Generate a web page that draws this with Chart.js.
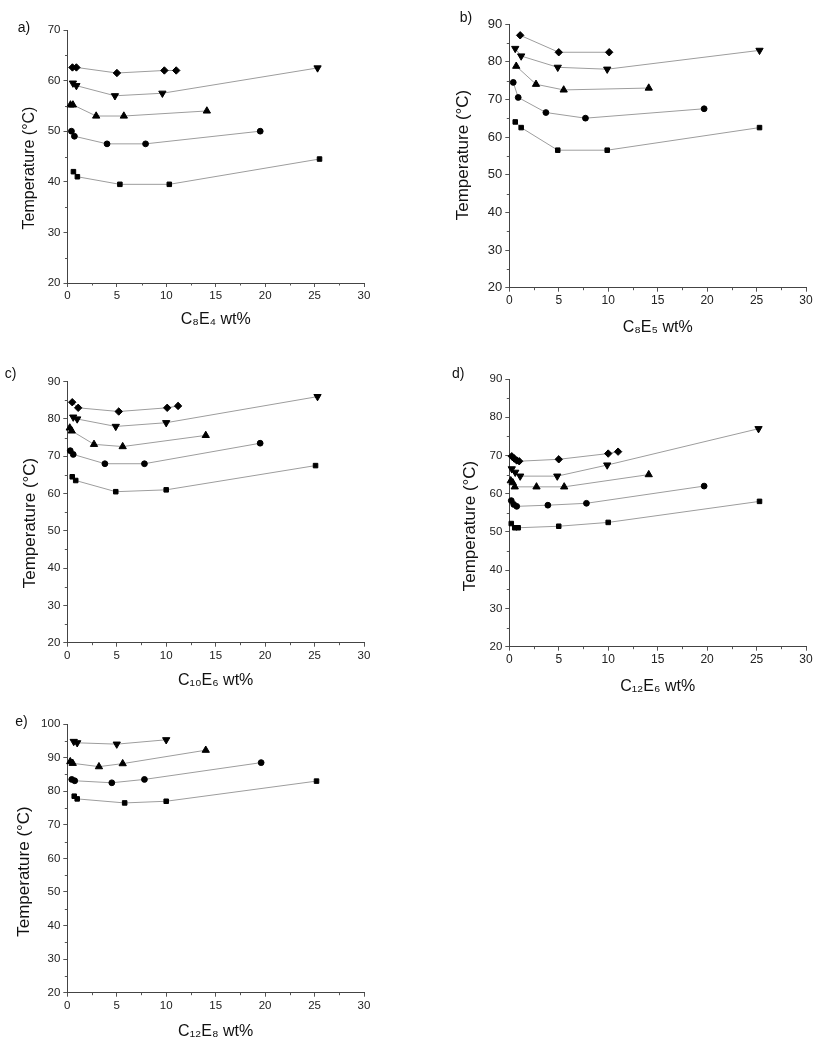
<!DOCTYPE html>
<html>
<head>
<meta charset="utf-8">
<script src="https://cdn.jsdelivr.net/npm/chart.js@4.4.1/dist/chart.umd.min.js"></script>
<style>
  body { margin: 0; background: #fff; }
  #page { position: relative; width: 825px; height: 1050px; overflow: hidden; }
  .panel { position: absolute; }
</style>
</head>
<body>
<div id="page">
  <canvas class="panel" id="chartA"></canvas>
  <canvas class="panel" id="chartB"></canvas>
  <canvas class="panel" id="chartC"></canvas>
  <canvas class="panel" id="chartD"></canvas>
  <canvas class="panel" id="chartE"></canvas>
</div>
<script>
// ---- data: [wt%, temperature °C] ----
const xTicks = [0, 5, 10, 15, 20, 25, 30];

// a) C8E4
const c8e4Square   = [[0.6, 42], [1.0, 41], [5.3, 39.5], [10.3, 39.5], [25.5, 44.5]];
const c8e4Circle   = [[0.4, 50], [0.7, 49], [4.0, 47.5], [7.9, 47.5], [19.5, 50]];
const c8e4Triangle = [[0.3, 55.2], [0.55, 55.2], [2.9, 53], [5.7, 53], [14.1, 54]];
const c8e4Down     = [[0.55, 59.5], [0.9, 59], [4.8, 57], [9.6, 57.5], [25.3, 62.5]];
const c8e4Diamond  = [[0.5, 62.6], [0.9, 62.6], [5.0, 61.5], [9.8, 62], [11, 62]];

// b) C8E5
const c8e5Square   = [[0.6, 64], [1.2, 62.5], [4.9, 56.5], [9.9, 56.5], [25.3, 62.5]];
const c8e5Circle   = [[0.4, 74.5], [0.9, 70.5], [3.7, 66.5], [7.7, 65], [19.7, 67.5]];
const c8e5Triangle = [[0.7, 78.8], [2.7, 74], [5.5, 72.5], [14.1, 73]];
const c8e5Down     = [[0.6, 83.5], [1.2, 81.5], [4.9, 78.5], [9.9, 78], [25.3, 83]];
const c8e5Diamond  = [[1.1, 87], [5.0, 82.5], [10.1, 82.5]];

// c) C10E6
const c10e6Square   = [[0.5, 64.5], [0.85, 63.5], [4.9, 60.5], [10, 61], [25.1, 67.5]];
const c10e6Circle   = [[0.3, 71.5], [0.6, 70.5], [3.8, 68], [7.8, 68], [19.5, 73.5]];
const c10e6Triangle = [[0.25, 77.6], [0.45, 76.8], [2.7, 73.2], [5.6, 72.6], [14, 75.6]];
const c10e6Down     = [[0.6, 80.5], [1.0, 80], [4.9, 78], [10, 79], [25.3, 86]];
const c10e6Diamond  = [[0.5, 84.5], [1.1, 83], [5.2, 82], [10.1, 83], [11.2, 83.5]];

// d) C12E6
const c12e6Square   = [[0.2, 52.2], [0.55, 51.1], [0.9, 51.1], [5.0, 51.5], [10, 52.5], [25.3, 58]];
const c12e6Circle   = [[0.2, 58.2], [0.45, 57.2], [0.75, 56.7], [3.9, 57], [7.8, 57.5], [19.7, 62]];
const c12e6Triangle = [[0.15, 63.4], [0.35, 62.9], [0.55, 61.8], [2.75, 61.8], [5.55, 61.8], [14.1, 65]];
const c12e6Down     = [[0.25, 66.5], [0.6, 65.6], [1.1, 64.6], [4.85, 64.6], [9.9, 67.5], [25.2, 77]];
const c12e6Diamond  = [[0.25, 69.8], [0.5, 69.2], [0.75, 68.7], [1.0, 68.5], [5.0, 69], [10, 70.5], [11, 71]];

// e) C12E8
const c12e8Square   = [[0.7, 78.5], [1.0, 77.7], [5.8, 76.5], [10, 77], [25.2, 83]];
const c12e8Circle   = [[0.45, 83.5], [0.75, 83.1], [4.5, 82.5], [7.8, 83.5], [19.6, 88.5]];
const c12e8Triangle = [[0.3, 88.8], [0.55, 88.3], [3.2, 87.3], [5.6, 88.2], [14, 92.2]];
const c12e8Down     = [[0.65, 94.8], [1.0, 94.4], [5.0, 94], [10, 95.3]];

const FONT = '"Liberation Sans", Arial, sans-serif';

// marker look for each series kind
const markers = {
  square:   { pointStyle: 'rect', pointRadius: 3.2, rotation: 0 },
  circle:   { pointStyle: 'circle', pointRadius: 2.9, rotation: 0 },
  triangle: { pointStyle: 'triangle', pointRadius: 4.2, rotation: 0 },
  down:     { pointStyle: 'triangle', pointRadius: 4.2, rotation: 180 },
  diamond:  { pointStyle: 'rectRot', pointRadius: 3.7, rotation: 0 }
};

// short minor ticks between the labelled ones
const minorTicks = {
  id: 'minorTicks',
  afterDraw(chart) {
    const ctx = chart.ctx;
    const xs = chart.scales.x, ys = chart.scales.y;
    ctx.save();
    ctx.strokeStyle = '#555';
    ctx.lineWidth = 1;
    ctx.beginPath();
    for (let v = xs.min + 2.5; v < xs.max; v += 5) {
      const px = Math.round(xs.getPixelForValue(v)) + 0.5;
      ctx.moveTo(px, xs.top);
      ctx.lineTo(px, xs.top + 2.5);
    }
    for (let v = ys.min + 5; v < ys.max; v += 10) {
      const py = Math.round(ys.getPixelForValue(v)) + 0.5;
      ctx.moveTo(ys.right, py);
      ctx.lineTo(ys.right - 2.5, py);
    }
    ctx.stroke();
    ctx.restore();
  }
};

// panel letter and the rotated y title
const panelText = {
  id: 'panelText',
  afterDraw(chart, args, o) {
    const ctx = chart.ctx;
    ctx.save();
    ctx.fillStyle = '#111';
    ctx.textAlign = 'center';
    ctx.textBaseline = 'middle';
    ctx.font = '14px ' + FONT;
    ctx.fillText(o.letter, o.letterX, o.letterY);
    ctx.translate(o.titleX, o.titleY);
    ctx.rotate(-Math.PI / 2);
    ctx.font = o.titleSize + 'px ' + FONT;
    ctx.fillText('Temperature (°C)', 0, 0);
    ctx.restore();
  }
};

function makePanel(id, p) {
  const canvas = document.getElementById(id);
  canvas.width = p.box.w;
  canvas.height = p.box.h;
  canvas.style.left = p.box.left + 'px';
  canvas.style.top = p.box.top + 'px';

  const yAxisWidth = p.area.l - p.box.left;
  const xAxisHeight = p.box.top + p.box.h - p.area.b;
  const xTitleLine = 16 * 1.2;

  const datasets = p.series.map(s => {
    const m = markers[s.kind];
    return {
      data: s.points.map(pt => ({ x: pt[0], y: pt[1] })),
      showLine: true,
      tension: 0,
      borderColor: '#9d9d9d',
      borderWidth: 1,
      pointStyle: m.pointStyle,
      pointRadius: m.pointRadius,
      pointRotation: m.rotation,
      pointBackgroundColor: '#000',
      pointBorderColor: '#000',
      pointBorderWidth: 1,
      clip: false
    };
  });

  return new Chart(canvas, {
    type: 'scatter',
    data: { datasets: datasets },
    options: {
      responsive: false,
      animation: false,
      devicePixelRatio: 1,
      layout: {
        padding: {
          left: 0,
          top: p.area.t - p.box.top,
          right: p.box.left + p.box.w - p.area.r,
          bottom: 0
        }
      },
      plugins: {
        legend: { display: false },
        tooltip: { enabled: false },
        panelText: {
          letter: p.letter,
          letterX: p.letterAt[0] - p.box.left,
          letterY: p.letterAt[1] - p.box.top,
          titleX: p.yTitleAt[0] - p.box.left,
          titleY: p.yTitleAt[1] - p.box.top,
          titleSize: p.yTitleSize
        }
      },
      scales: {
        x: {
          type: 'linear',
          min: 0,
          max: 30,
          afterBuildTicks: s => { s.ticks = xTicks.map(v => ({ value: v })); },
          afterFit: s => { s.height = xAxisHeight; },
          ticks: {
            color: '#222',
            padding: 2,
            maxRotation: 0,
            font: { family: FONT, size: p.tickX }
          },
          grid: { drawOnChartArea: false, drawTicks: true, tickLength: 4, color: '#555' },
          border: { display: true, color: '#444', width: 1 },
          title: {
            display: true,
            text: p.xTitle,
            color: '#111',
            font: { family: FONT, size: 16 },
            padding: { top: 0, bottom: p.box.top + p.box.h - p.xTitleY - xTitleLine / 2 }
          }
        },
        y: {
          type: 'linear',
          min: p.yTicks[0],
          max: p.yTicks[p.yTicks.length - 1],
          afterBuildTicks: s => { s.ticks = p.yTicks.map(v => ({ value: v })); },
          afterFit: s => { s.width = yAxisWidth; },
          ticks: {
            color: '#222',
            padding: 3,
            font: { family: FONT, size: p.tickY }
          },
          grid: { drawOnChartArea: false, drawTicks: true, tickLength: 4, color: '#555' },
          border: { display: true, color: '#444', width: 1 }
        }
      }
    },
    plugins: [minorTicks, panelText]
  });
}

makePanel('chartA', {
  box: { left: 0, top: 0, w: 405, h: 340 },
  area: { l: 67.5, t: 30, r: 364, b: 283 },
  yTicks: [20, 30, 40, 50, 60, 70],
  tickX: 11.5, tickY: 11.5,
  letter: 'a)', letterAt: [24, 28],
  yTitleAt: [30, 168], yTitleSize: 16,
  xTitle: 'C₈E₄ wt%', xTitleY: 320,
  series: [
    { kind: 'square', points: c8e4Square },
    { kind: 'circle', points: c8e4Circle },
    { kind: 'triangle', points: c8e4Triangle },
    { kind: 'down', points: c8e4Down },
    { kind: 'diamond', points: c8e4Diamond }
  ]
});

makePanel('chartB', {
  box: { left: 412, top: 0, w: 413, h: 340 },
  area: { l: 509.3, t: 24, r: 806, b: 287.7 },
  yTicks: [20, 30, 40, 50, 60, 70, 80, 90],
  tickX: 12, tickY: 13,
  letter: 'b)', letterAt: [466, 18],
  yTitleAt: [463.3, 155], yTitleSize: 17,
  xTitle: 'C₈E₅ wt%', xTitleY: 328,
  series: [
    { kind: 'square', points: c8e5Square },
    { kind: 'circle', points: c8e5Circle },
    { kind: 'triangle', points: c8e5Triangle },
    { kind: 'down', points: c8e5Down },
    { kind: 'diamond', points: c8e5Diamond }
  ]
});

makePanel('chartC', {
  box: { left: 0, top: 350, w: 405, h: 350 },
  area: { l: 67.3, t: 381.7, r: 364, b: 642.7 },
  yTicks: [20, 30, 40, 50, 60, 70, 80, 90],
  tickX: 11.5, tickY: 11.5,
  letter: 'c)', letterAt: [10.5, 374],
  yTitleAt: [30, 523], yTitleSize: 17,
  xTitle: 'C₁₀E₆ wt%', xTitleY: 681,
  series: [
    { kind: 'square', points: c10e6Square },
    { kind: 'circle', points: c10e6Circle },
    { kind: 'triangle', points: c10e6Triangle },
    { kind: 'down', points: c10e6Down },
    { kind: 'diamond', points: c10e6Diamond }
  ]
});

makePanel('chartD', {
  box: { left: 412, top: 350, w: 413, h: 350 },
  area: { l: 509.3, t: 379, r: 806, b: 646.7 },
  yTicks: [20, 30, 40, 50, 60, 70, 80, 90],
  tickX: 12, tickY: 11.5,
  letter: 'd)', letterAt: [458.3, 374],
  yTitleAt: [470, 526], yTitleSize: 17,
  xTitle: 'C₁₂E₆ wt%', xTitleY: 687,
  series: [
    { kind: 'square', points: c12e6Square },
    { kind: 'circle', points: c12e6Circle },
    { kind: 'triangle', points: c12e6Triangle },
    { kind: 'down', points: c12e6Down },
    { kind: 'diamond', points: c12e6Diamond }
  ]
});

makePanel('chartE', {
  box: { left: 0, top: 700, w: 405, h: 350 },
  area: { l: 67.3, t: 724, r: 364, b: 992.7 },
  yTicks: [20, 30, 40, 50, 60, 70, 80, 90, 100],
  tickX: 11.5, tickY: 11.5,
  letter: 'e)', letterAt: [21.5, 722.5],
  yTitleAt: [24, 871.5], yTitleSize: 17,
  xTitle: 'C₁₂E₈ wt%', xTitleY: 1032,
  series: [
    { kind: 'square', points: c12e8Square },
    { kind: 'circle', points: c12e8Circle },
    { kind: 'triangle', points: c12e8Triangle },
    { kind: 'down', points: c12e8Down }
  ]
});
</script>
</body>
</html>
